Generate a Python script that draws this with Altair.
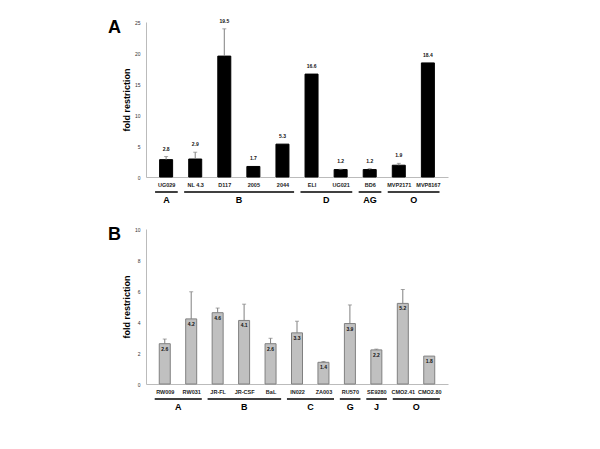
import altair as alt
import pandas as pd

# Panel A
a_names = ["UG029", "NL 4.3", "D117", "2005", "2044", "ELI", "UG021", "BD6", "MVP2171", "MVP8167"]
a_values = [2.8, 2.9, 19.5, 1.7, 5.3, 16.6, 1.2, 1.2, 1.9, 18.4]
a_err_top = [3.3, 4.0, 23.9, None, None, None, 1.25, 1.35, 2.2, None]
a_groups = ["A", "B", "D", "AG", "O"]
a_group_first = [0, 1, 5, 7, 8]
a_group_last = [0, 4, 6, 7, 9]

# Panel B
b_names = ["RW009", "RW031", "JR-FL", "JR-CSF", "BaL", "IN022", "ZA003", "RU570", "SE9280", "CMO2.41", "CMO2.80"]
b_values = [2.6, 4.2, 4.6, 4.1, 2.6, 3.3, 1.4, 3.9, 2.2, 5.2, 1.8]
b_err_top = [2.9, 5.95, 4.9, 5.15, 2.95, 4.05, 1.45, 5.1, 2.25, 6.1, None]
b_groups = ["A", "B", "C", "G", "J", "O"]
b_group_first = [0, 2, 5, 7, 8, 9]
b_group_last = [1, 4, 6, 7, 8, 10]

FONT = "Liberation Sans"
W, H = 302, 155


def panel(letter, names, values, err_top, groups, gfirst, glast, ymax, ystep,
          bar_fill, bar_stroke, bar_w, label_inside):
    n = len(names)
    df = pd.DataFrame({
        "i": list(range(n)),
        "name": names,
        "value": values,
        "err": err_top,
    })
    df["lab"] = [f"{v:.1f}" for v in values]
    df["top"] = [max(v, e) if e is not None and e == e else v for v, e in zip(values, err_top)]
    gdf = pd.DataFrame({
        "g": groups,
        "s": [f - 0.38 for f in gfirst],
        "e": [l + 0.4 for l in glast],
    })
    gdf["c"] = (gdf["s"] + gdf["e"]) / 2

    label_expr = "[" + ",".join("'" + s + "'" for s in names) + "][datum.value]"
    xs = alt.Scale(domain=[-0.52, n - 1 + 0.52], nice=False, zero=False)
    ys = alt.Scale(domain=[0, ymax], nice=False)
    xaxis = alt.Axis(
        values=list(range(n)), labelExpr=label_expr, title=None, grid=False,
        ticks=False, labelFont=FONT, labelFontSize=5.5, labelFontWeight="bold",
        labelColor="#222", domainColor="#bbbbbb", labelPadding=5,
        labelFlush=False, labelOverlap=False, labelBound=False)
    yaxis = alt.Axis(
        values=list(range(0, ymax + 1, ystep)), title="fold restriction",
        grid=False, ticks=False, labelFont=FONT, labelFontSize=5,
        labelColor="#333", domainColor="#bbbbbb", labelPadding=6,
        labelFlush=False, labelOverlap=False, labelBound=False,
        titleFont=FONT, titleFontSize=9, titleFontWeight="bold",
        titleColor="#000", titlePadding=3)

    def X(f):
        return alt.X(f, scale=xs, axis=xaxis)

    def Y(f):
        return alt.Y(f, scale=ys, axis=yaxis)

    base = alt.Chart(df)
    bars = base.mark_bar(size=bar_w, fill=bar_fill, stroke=bar_stroke,
                         strokeWidth=1).encode(x=X("i:Q"), y=Y("value:Q"))
    errs = base.transform_filter("datum.err != null").mark_rule(
        color="#808080", strokeWidth=1).encode(x=X("i:Q"), y=Y("value:Q"), y2="err:Q")
    caps = base.transform_filter("datum.err != null").mark_tick(
        color="#808080", thickness=1, size=4, orient="horizontal").encode(
        x=X("i:Q"), y=Y("err:Q"))
    if label_inside:
        labels = base.mark_text(font=FONT, fontSize=5, fontWeight="bold",
                                color="#111", dy=5, baseline="middle").encode(
            x=X("i:Q"), y=Y("value:Q"), text="lab:N")
    else:
        labels = base.mark_text(font=FONT, fontSize=5, fontWeight="bold",
                                color="#111", dy=-8, baseline="middle").encode(
            x=X("i:Q"), y=Y("top:Q"), text="lab:N")

    gbase = alt.Chart(gdf)
    glines = gbase.mark_rule(color="#000", strokeWidth=1.5).encode(
        x=X("s:Q"), x2="e:Q", y=alt.value(H + 15))
    gtext = gbase.mark_text(font=FONT, fontSize=9, fontWeight="bold",
                            color="#000", baseline="middle").encode(
        x=X("c:Q"), y=alt.value(H + 23), text="g:N")

    letter_df = pd.DataFrame({"t": [letter]})
    letter_mark = alt.Chart(letter_df).mark_text(
        font=FONT, fontSize=18, fontWeight="bold", align="left",
        baseline="top", color="#000").encode(
        x=alt.value(-38), y=alt.value(-3), text="t:N")

    return alt.layer(bars, errs, caps, labels, glines, gtext, letter_mark).properties(
        width=W, height=H)


pa = panel("A", a_names, a_values, a_err_top, a_groups, a_group_first, a_group_last,
           25, 5, "#000000", "#000000", 13, False)
pb = panel("B", b_names, b_values, b_err_top, b_groups, b_group_first, b_group_last,
           10, 2, "#c0c0c0", "#808080", 11, True)

chart = alt.vconcat(pa, pb, spacing=21).properties(
    padding={"left": 100, "top": 10, "right": 5, "bottom": 5}
).configure(background="white", view=alt.ViewConfig(stroke=None))

chart.save("out.html", embed_options={"renderer": "svg", "actions": False})
